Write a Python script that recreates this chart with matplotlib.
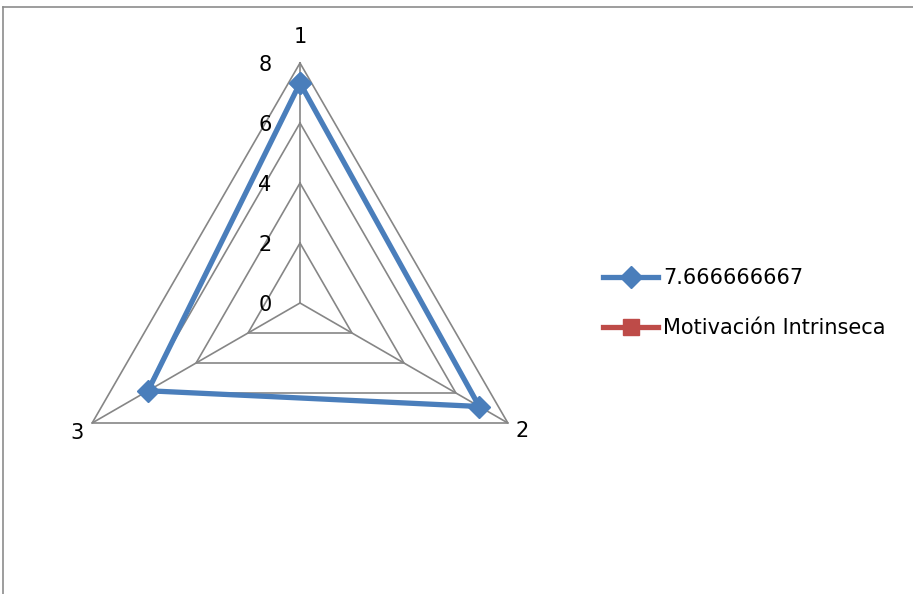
import numpy as np
import matplotlib
matplotlib.use("Agg")
import matplotlib.pyplot as plt
from matplotlib.lines import Line2D

# data
categories = ["1", "2", "3"]
levels = [0, 2, 4, 6, 8]
serie_a = [7.33, 6.9, 5.85]
serie_a_name = "7.666666667"
serie_b = []  # no visible values
serie_b_name = "Motivación Intrinseca"

BLUE = "#4A7EBB"
RED = "#BE4B48"
GRID = "#868686"


def to_xy(values):
    ang = np.arange(len(values)) * 2 * np.pi / len(categories)
    r = np.asarray(values, dtype=float)
    return r * np.sin(ang), r * np.cos(ang)


def main():
    fig = plt.figure(figsize=(9.13, 5.94), dpi=100)
    W, H = 913, 594
    cx, cy = 300, 303      # centre in pixels (from top)
    half = 260             # axes half size in pixels
    rmax = 8
    scale = 240 / rmax     # pixels per unit
    lim = half / scale
    ax = fig.add_axes([(cx - half) / W, (H - cy - half) / H, 2 * half / W, 2 * half / H])
    ax.set_xlim(-lim, lim)
    ax.set_ylim(-lim, lim)
    ax.axis("off")

    # grid polygons
    for lv in levels[1:]:
        gx, gy = to_xy([lv] * len(categories))
        ax.plot(np.append(gx, gx[0]), np.append(gy, gy[0]), color=GRID, lw=1.2, zorder=1)
    sx, sy = to_xy([rmax] * len(categories))
    for x, y in zip(sx, sy):
        ax.plot([0, x], [0, y], color=GRID, lw=1.2, zorder=1)

    # value labels on the first spoke
    for lv in levels:
        ax.annotate(str(lv), (0, lv), xytext=(-35, -2), textcoords="offset pixels",
                    ha="center", va="center", fontsize=15)

    # category labels
    offs = [(0, 26), (14, -8), (-15, -10)]
    for lab, x, y, o in zip(categories, sx, sy, offs):
        ax.annotate(lab, (x, y), xytext=o, textcoords="offset pixels",
                    ha="center", va="center", fontsize=15)

    # series
    ax_x, ax_y = to_xy(serie_a)
    ax.plot(np.append(ax_x, ax_x[0]), np.append(ax_y, ax_y[0]), color=BLUE, lw=3.8,
            marker="D", markersize=11, markerfacecolor=BLUE, markeredgecolor=BLUE,
            label=serie_a_name, zorder=3)
    bx, by = to_xy(serie_b)
    ax.plot(bx, by, color=RED, lw=3.8, marker="s", markersize=11,
            markerfacecolor=RED, markeredgecolor=RED, label=serie_b_name, zorder=3)

    ax.legend(loc="upper left", bbox_to_anchor=(603 / W, 1 - 268 / H),
              bbox_transform=fig.transFigure, frameon=False, fontsize=15,
              handlelength=2.65, handletextpad=0.25, labelspacing=1.45,
              borderpad=0, borderaxespad=0)

    # chart frame (left and top edges)
    fig.add_artist(Line2D([3 / W, 3 / W], [0, 1 - 7 / H], color="#8C8C8C", lw=1.2,
                          transform=fig.transFigure))
    fig.add_artist(Line2D([3 / W, 1], [1 - 7 / H, 1 - 7 / H], color="#8C8C8C", lw=1.2,
                          transform=fig.transFigure))

    fig.savefig("out.png", dpi=100)


if __name__ == "__main__":
    main()
